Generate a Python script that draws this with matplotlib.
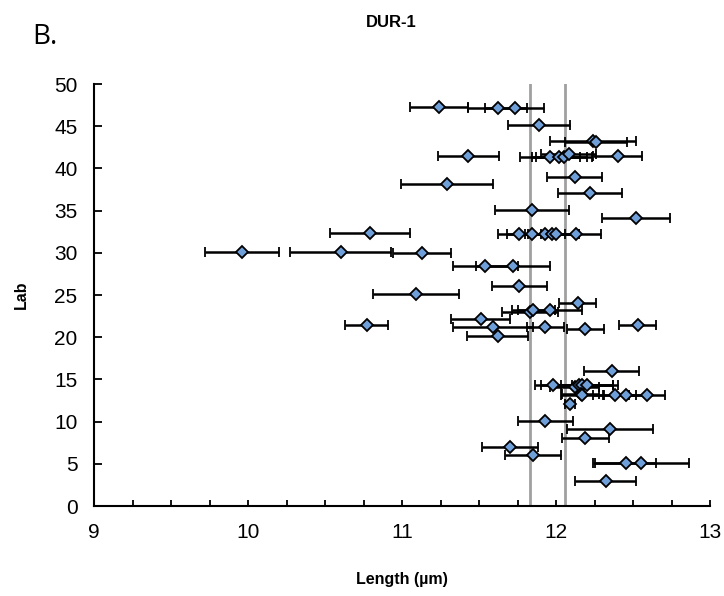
import matplotlib
matplotlib.use("Agg")
import matplotlib.pyplot as plt
from matplotlib.ticker import MultipleLocator

plt.rcParams['font.family'] = ['Liberation Sans', 'DejaVu Sans']

# Mean length per lab measurement, its lab number and the error (SD)
length = [11.24, 11.62, 11.73,
          11.89,
          12.24, 12.26,
          11.43, 11.96, 12.02, 12.05, 12.08, 12.40,
          12.12,
          11.29,
          12.22,
          11.84,
          12.52,
          10.79,
          11.76, 11.84, 11.93, 11.97, 12.00, 12.13,
          9.96, 10.60, 11.13,
          11.54, 11.72,
          11.76,
          11.09,
          12.14,
          11.83, 11.85, 11.96,
          11.51,
          10.77, 12.53,
          11.59, 11.93,
          12.19,
          11.62,
          12.36,
          11.98, 12.12, 12.15, 12.17, 12.20,
          12.16, 12.17, 12.38, 12.45, 12.59,
          12.09,
          11.93,
          12.35,
          12.19,
          11.70,
          11.85,
          12.45, 12.55,
          12.32]
lab = [47.3, 47.2, 47.2,
       45.1,
       43.2, 43.1,
       41.5, 41.4, 41.3, 41.3, 41.7, 41.5,
       39.0,
       38.1,
       37.1,
       35.1,
       34.1,
       32.4,
       32.2, 32.2, 32.2, 32.2, 32.2, 32.2,
       30.1, 30.1, 30.0,
       28.4, 28.4,
       26.1,
       25.1,
       24.1,
       23.0, 23.2, 23.2,
       22.1,
       21.4, 21.4,
       21.2, 21.2,
       21.0,
       20.1,
       16.0,
       14.3, 14.1, 14.3, 14.3, 14.3,
       13.3, 13.2, 13.2, 13.2, 13.2,
       12.1,
       10.1,
       9.1,
       8.1,
       7.0,
       6.0,
       5.1, 5.1,
       3.0]
err = [0.19, 0.19, 0.19,
       0.20,
       0.28, 0.20,
       0.20, 0.195, 0.18, 0.18, 0.18, 0.16,
       0.18,
       0.30,
       0.21,
       0.24,
       0.22,
       0.26,
       0.14, 0.16, 0.13, 0.15, 0.15, 0.16,
       0.24, 0.33, 0.19,
       0.21, 0.24,
       0.18,
       0.28,
       0.12,
       0.18, 0.14, 0.21,
       0.19,
       0.14, 0.12,
       0.26, 0.12,
       0.12,
       0.20,
       0.18,
       0.12, 0.16, 0.25, 0.20, 0.17,
       0.12, 0.14, 0.14, 0.145, 0.115,
       0.03,
       0.18,
       0.28,
       0.155,
       0.18,
       0.18,
       0.20, 0.31,
       0.20]

# reference lines
ref_lines = [11.83, 12.06]

fig = plt.figure(figsize=(7.24, 5.96), dpi=100)
ax = fig.add_axes([0.130, 0.151, 0.851, 0.708])

for xv in ref_lines:
    ax.axvline(xv, color='#a0a0a0', lw=2, zorder=1)

ax.errorbar(length, lab, xerr=err, fmt='D', color='black', ecolor='black',
            elinewidth=1.8, capsize=3.3, capthick=1.8,
            markersize=6.5, markerfacecolor='#6f9fd8', markeredgecolor='black',
            markeredgewidth=1.3, zorder=3)

ax.set_xlim(9, 13)
ax.set_ylim(0, 50)
ax.xaxis.set_major_locator(MultipleLocator(1))
ax.xaxis.set_minor_locator(MultipleLocator(0.25))
ax.yaxis.set_major_locator(MultipleLocator(5))

for s in ['top', 'right']:
    ax.spines[s].set_visible(False)
for s in ['left', 'bottom']:
    ax.spines[s].set_linewidth(1.5)

ax.tick_params(axis='x', which='both', direction='in', length=4, width=1.3,
               labelsize=15, pad=12)
ax.tick_params(axis='y', which='major', direction='in', length=6, width=1.3,
               labelsize=15, pad=12)

ax.set_xlabel('Length (µm)', fontsize=11.5, fontweight='bold', labelpad=22)
ax.set_ylabel('Lab', fontsize=11.5, fontweight='bold', labelpad=18)

fig.text(0.541, 0.963, 'DUR-1', ha='center', va='center', fontsize=12,
         fontweight='bold', family=['Liberation Sans Narrow', 'Liberation Sans'])
fig.text(0.045, 0.938, 'B.', ha='left', va='center', fontsize=20,
         family=['Open Sans', 'DejaVu Sans'])

fig.savefig('out.png', dpi=100)
